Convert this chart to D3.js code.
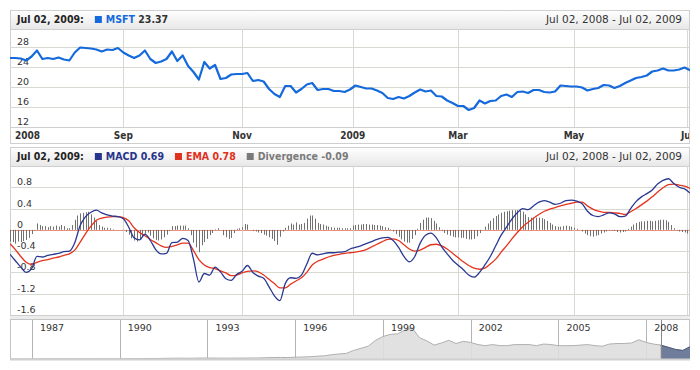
<!DOCTYPE html>
<html lang="en">
<head>
<meta charset="utf-8">
<title>MSFT MACD</title>
<script type="text/javascript" src="https://cdnjs.cloudflare.com/ajax/libs/d3/7.8.5/d3.min.js"></script>
<style type="text/css">
  body { margin: 0; background: #fff; }
  text { font-family: "DejaVu Sans", Verdana, sans-serif; }
  .bold { font-family: "DejaVu Sans Condensed", "Liberation Sans", sans-serif; font-weight: bold; }
</style>
</head>
<body>
<script type="text/javascript">
var w = 700;
var h = 370;

// MSFT close, every 2nd trading day, Jul 02 2008 - Jul 02 2009
var msft = [
  25.8, 25.8, 25.7, 25.3, 26.1, 27.3, 25.6, 25.8, 25.6, 25.9,
  25.5, 25.3, 26.9, 27.9, 27.8, 27.7, 27.5, 27.1, 27.5, 27.4,
  27.8, 26.9, 26.3, 25.8, 26.3, 27.3, 25.6, 24.8, 25.1, 25.6,
  27.1, 25.2, 26.3, 24.2, 23.0, 21.5, 25.0, 23.7, 24.4, 21.6,
  21.8, 22.5, 22.6, 22.6, 22.8, 21.2, 21.4, 21.1, 19.6, 18.6,
  18.0, 20.2, 20.2, 18.9, 19.6, 20.5, 20.8, 19.4, 19.6, 19.6,
  19.2, 19.2, 19.0, 19.5, 20.3, 20.0, 19.7, 19.7, 19.3, 18.8,
  17.8, 17.6, 18.0, 17.7, 18.2, 18.9, 19.5, 19.1, 19.3, 18.2,
  18.1, 17.3, 16.8, 16.2, 16.2, 15.4, 15.8, 17.3, 16.7, 17.2,
  17.3, 18.2, 18.5, 18.0, 19.0, 19.1, 18.8, 19.4, 19.4, 19.0,
  18.9, 19.1, 20.3, 20.2, 20.1, 20.1, 19.9, 19.3, 19.6, 19.8,
  20.4, 20.3, 19.8, 20.2, 20.8, 21.3, 21.8, 22.0, 22.3, 23.1,
  23.3, 23.7, 23.3, 23.3, 23.5, 23.9, 23.37
];

var macd = [
  -0.46, -0.58, -0.70, -0.80, -0.73, -0.50, -0.51, -0.48, -0.46, -0.44,
  -0.41, -0.40, -0.24, 0.08, 0.25, 0.33, 0.37, 0.32, 0.28, 0.26,
  0.25, 0.21, 0.05, -0.15, -0.19, -0.08, -0.20, -0.37, -0.45, -0.44,
  -0.24, -0.23, -0.16, -0.20, -0.55, -0.98, -0.82, -0.85, -0.70, -0.79,
  -0.92, -0.95, -0.84, -0.78, -0.67, -0.80, -0.87, -0.91, -1.07, -1.24,
  -1.33, -1.01, -0.90, -0.91, -0.85, -0.64, -0.44, -0.47, -0.45, -0.43,
  -0.43, -0.42, -0.41, -0.36, -0.33, -0.30, -0.26, -0.22, -0.18, -0.15,
  -0.14, -0.20, -0.33, -0.50, -0.60, -0.50, -0.25, -0.10, -0.06, -0.15,
  -0.32, -0.45, -0.57, -0.66, -0.75, -0.85, -0.89, -0.80, -0.66, -0.50,
  -0.30, -0.10, 0.05, 0.20, 0.32, 0.40, 0.38, 0.45, 0.52, 0.55,
  0.52, 0.48, 0.50, 0.55, 0.56, 0.54, 0.49, 0.35, 0.27, 0.25,
  0.28, 0.32, 0.30, 0.25, 0.26, 0.40, 0.53, 0.62, 0.68, 0.75,
  0.86, 0.93, 0.96, 0.87, 0.80, 0.77, 0.69
];

var ema = [
  -0.26, -0.37, -0.50, -0.61, -0.65, -0.61, -0.58, -0.56, -0.53, -0.51,
  -0.48, -0.45, -0.38, -0.23, -0.07, 0.07, 0.18, 0.22, 0.24, 0.25,
  0.25, 0.23, 0.17, 0.04, -0.05, -0.11, -0.18, -0.24, -0.30, -0.33,
  -0.31, -0.28, -0.25, -0.25, -0.39, -0.56, -0.66, -0.71, -0.73, -0.77,
  -0.81, -0.86, -0.85, -0.81, -0.78, -0.77, -0.79, -0.85, -0.93, -1.01,
  -1.09, -1.09, -1.02, -0.96, -0.90, -0.80, -0.66, -0.59, -0.55, -0.51,
  -0.48, -0.46, -0.44, -0.43, -0.42, -0.40, -0.37, -0.32, -0.27, -0.22,
  -0.18, -0.17, -0.20, -0.28, -0.36, -0.40, -0.38, -0.33, -0.28, -0.27,
  -0.30, -0.36, -0.44, -0.52, -0.60, -0.67, -0.72, -0.74, -0.72, -0.64,
  -0.55, -0.42, -0.30, -0.17, -0.05, 0.06, 0.14, 0.22, 0.29, 0.35,
  0.39, 0.42, 0.45, 0.48, 0.50, 0.52, 0.52, 0.45, 0.39, 0.35,
  0.33, 0.33, 0.32, 0.31, 0.29, 0.34, 0.40, 0.47, 0.54, 0.62,
  0.71, 0.79, 0.85, 0.86, 0.84, 0.82, 0.78
];

// divergence, one bar per trading day
var divergence = [
  -0.22, -0.23, -0.26, -0.22, -0.23, -0.21, -0.19, -0.15, -0.08, -0.01,
  0.12, 0.09, 0.07, 0.07, 0.05, 0.07, 0.06, 0.08, 0.06, 0.09,
  0.07, 0.03, 0.03, 0.09, 0.19, 0.27, 0.31, 0.32, 0.33, 0.34,
  0.29, 0.23, 0.17, 0.09, 0.06, 0.04, 0.04, 0.03, 0.01, 0.00,
  0.00, 0.00, -0.01, -0.04, -0.09, -0.16, -0.20, -0.22, -0.18, -0.12,
  -0.07, -0.05, -0.11, -0.16, -0.19, -0.20, -0.18, -0.14, -0.09, -0.02,
  0.07, 0.07, 0.08, 0.08, 0.08, 0.08, 0.03, -0.10, -0.24, -0.33,
  -0.42, -0.29, -0.23, -0.17, -0.10, -0.06, 0.01, 0.03, 0.00, -0.10,
  -0.14, -0.17, -0.15, -0.06, 0.02, 0.03, 0.05, 0.11, 0.10, 0.00,
  -0.02, -0.03, -0.05, -0.06, -0.09, -0.11, -0.14, -0.17, -0.21, -0.28,
  -0.13, -0.03, 0.04, 0.08, 0.12, 0.10, 0.14, 0.10, 0.11, 0.13,
  0.21, 0.27, 0.27, 0.21, 0.13, 0.11, 0.10, 0.08, 0.06, 0.05,
  0.04, 0.04, 0.04, 0.03, 0.03, 0.03, 0.03, 0.08, 0.09, 0.10,
  0.10, 0.11, 0.11, 0.10, 0.10, 0.09, 0.09, 0.08, 0.07, 0.05,
  0.04, 0.01, -0.03, -0.08, -0.13, -0.18, -0.22, -0.24, -0.24, -0.17,
  -0.10, 0.02, 0.13, 0.19, 0.23, 0.23, 0.22, 0.17, 0.12, 0.05,
  -0.02, -0.06, -0.09, -0.11, -0.13, -0.14, -0.14, -0.15, -0.15, -0.17,
  -0.18, -0.18, -0.17, -0.12, -0.06, 0.00, 0.06, 0.12, 0.17, 0.22,
  0.26, 0.29, 0.32, 0.34, 0.35, 0.36, 0.37, 0.37, 0.37, 0.36,
  0.34, 0.29, 0.24, 0.23, 0.23, 0.23, 0.23, 0.22, 0.20, 0.17,
  0.13, 0.10, 0.07, 0.06, 0.06, 0.07, 0.08, 0.07, 0.06, 0.04,
  0.02, 0.00, -0.03, -0.07, -0.10, -0.12, -0.13, -0.11, -0.10, -0.07,
  -0.05, -0.03, -0.01, -0.01, -0.02, -0.04, -0.05, -0.04, -0.03, 0.02,
  0.06, 0.10, 0.13, 0.15, 0.16, 0.16, 0.17, 0.17, 0.16, 0.17,
  0.18, 0.19, 0.19, 0.18, 0.15, 0.09, 0.03, -0.01, -0.03, -0.04,
  -0.05, -0.07, -0.09
];

// trading-day index of the first session of each labelled month
var tickIdx = [42, 86, 127, 166, 209, 251];
var tickLabels = ["Sep", "Nov", "2009", "Mar", "May", "Jul"];
var priceTicks = [12, 16, 20, 24, 28];
var macdTicks = [-1.6, -1.2, -0.8, -0.4, 0, 0.4, 0.8];

// scroller: quarterly MSFT close from 1986.25
var scrollYears = [1987, 1990, 1993, 1996, 1999, 2002, 2005, 2008];
var scrollPrice = [
  0.1, 0.1, 0.1,
  0.2, 0.25, 0.3, 0.25,
  0.25, 0.25, 0.25, 0.25,
  0.3, 0.3, 0.4, 0.4,
  0.5, 0.6, 0.6, 0.7,
  0.9, 1.0, 1.2, 1.4,
  1.6, 1.4, 1.5, 1.7,
  1.8, 1.7, 1.5, 1.6,
  1.7, 1.7, 1.9, 2.0,
  2.4, 2.8, 2.9, 2.8,
  3.3, 3.8, 4.3, 5.2,
  6.0, 8.0, 9.5, 10.5,
  16, 20, 24, 35,
  42, 46, 47, 54,
  58, 40, 34, 26,
  30, 35, 29, 33,
  31, 27, 25, 27,
  25, 25, 27, 27,
  27, 25, 28, 27,
  25, 25, 25, 26,
  27, 25, 24, 28,
  29, 29, 30, 36,
  31, 28, 26, 22,
  18, 16, 23
];

var svg = d3.select("body")
            .append("svg")
            .attr("width", w)
            .attr("height", h);

var defs = svg.append("defs");
var grad = defs.append("linearGradient")
               .attr("id", "hdr")
               .attr("x1", 0).attr("y1", 0).attr("x2", 0).attr("y2", 1);
grad.append("stop").attr("offset", "0%").attr("stop-color", "#fefefe");
grad.append("stop").attr("offset", "100%").attr("stop-color", "#e8e8e8");

defs.append("clipPath").attr("id", "clipTop")
    .append("rect").attr("x", 10).attr("y", 29).attr("width", 680).attr("height", 98);
defs.append("clipPath").attr("id", "clipBot")
    .append("rect").attr("x", 10).attr("y", 166).attr("width", 680).attr("height", 149);
defs.append("clipPath").attr("id", "clipAxis")
    .append("rect").attr("x", 10).attr("y", 127).attr("width", 679).attr("height", 16);

var x = d3.scaleLinear().domain([0, 252]).range([10, 690]);
var yPrice = d3.scaleLinear().domain([12, 31.6]).range([127, 29]);
var yMacd = d3.scaleLinear().domain([-1.6, 1.2]).range([315, 166]);

function crisp(v) { return Math.round(v) + 0.5; }

// panel frames with header bars
function frame(top, headBottom, bottom) {
  svg.append("rect")
     .attr("x", 10.5).attr("y", top + 0.5)
     .attr("width", 679).attr("height", bottom - top)
     .attr("fill", "#fff").attr("stroke", "#cfcfcf");
  svg.append("rect")
     .attr("x", 11).attr("y", top + 1)
     .attr("width", 678).attr("height", headBottom - top - 1)
     .attr("fill", "url(#hdr)");
  svg.append("line")
     .attr("x1", 10).attr("x2", 690)
     .attr("y1", headBottom + 0.5).attr("y2", headBottom + 0.5)
     .attr("stroke", "#cfcfcf");
}
frame(10, 29, 143);
frame(147, 166, 315);

// grids
function grid(y, ticks, top, bottom) {
  svg.append("g").selectAll("line")
     .data(ticks).enter().append("line")
     .attr("x1", 10).attr("x2", 690)
     .attr("y1", function(d) { return crisp(y(d)); })
     .attr("y2", function(d) { return crisp(y(d)); })
     .attr("stroke", function(d) { return d === 0 && y === yMacd ? "#e8907e" : "#d6d9d2"; });
  svg.append("g").selectAll("line")
     .data(tickIdx).enter().append("line")
     .attr("x1", function(d) { return crisp(x(d)); })
     .attr("x2", function(d) { return crisp(x(d)); })
     .attr("y1", top).attr("y2", bottom)
     .attr("stroke", "#d6d9d2");
}
grid(yPrice, priceTicks.slice(1), 29, 127);
grid(yMacd, macdTicks.slice(1), 166, 315);

svg.append("line")
   .attr("x1", 10).attr("x2", 690).attr("y1", 127.5).attr("y2", 127.5)
   .attr("stroke", "#cfcfcf");

// y labels sit inside the plot, just above their grid line
svg.append("g").selectAll("text")
   .data(priceTicks).enter().append("text")
   .attr("x", 17)
   .attr("y", function(d) { return yPrice(d) - 2; })
   .attr("font-size", "9.5px")
   .attr("fill", "#333")
   .text(function(d) { return d; });

svg.append("g").selectAll("text")
   .data(macdTicks).enter().append("text")
   .attr("x", 17)
   .attr("y", function(d) { return yMacd(d) - 2; })
   .attr("font-size", "9.5px")
   .attr("fill", "#333")
   .text(function(d) { return d; });

// x labels under the price panel
var xl = svg.append("g").attr("clip-path", "url(#clipAxis)");
xl.append("text")
  .attr("class", "bold")
  .attr("x", 15).attr("y", 139)
  .attr("font-size", "10px")
  .attr("fill", "#333")
  .text("2008");
xl.selectAll("text.tick")
  .data(tickIdx).enter().append("text")
  .attr("class", "bold tick")
  .attr("x", function(d) { return x(d); })
  .attr("y", 139)
  .attr("text-anchor", "middle")
  .attr("font-size", "10px")
  .attr("fill", "#333")
  .text(function(d, i) { return tickLabels[i]; });

// price line
var priceLine = d3.line()
    .x(function(d, i) { return x(i * 2); })
    .y(function(d) { return yPrice(d); });

svg.append("path")
   .datum(msft)
   .attr("clip-path", "url(#clipTop)")
   .attr("d", priceLine)
   .attr("fill", "none")
   .attr("stroke", "#1469dc")
   .attr("stroke-width", 2.2)
   .attr("stroke-linejoin", "round");

// divergence bars
svg.append("g")
   .attr("clip-path", "url(#clipBot)")
   .selectAll("line")
   .data(divergence).enter().append("line")
   .attr("x1", function(d, i) { return crisp(x(i)); })
   .attr("x2", function(d, i) { return crisp(x(i)); })
   .attr("y1", yMacd(0))
   .attr("y2", function(d) { return yMacd(d); })
   .attr("stroke", "#707070")
   .attr("stroke-width", 1);

var macdLine = d3.line()
    .x(function(d, i) { return x(i * 2); })
    .y(function(d) { return yMacd(d); })
    .curve(d3.curveMonotoneX);

svg.append("path")
   .datum(ema)
   .attr("clip-path", "url(#clipBot)")
   .attr("d", macdLine)
   .attr("fill", "none")
   .attr("stroke", "#e5341d")
   .attr("stroke-width", 1.3);

svg.append("path")
   .datum(macd)
   .attr("clip-path", "url(#clipBot)")
   .attr("d", macdLine)
   .attr("fill", "none")
   .attr("stroke", "#2a3891")
   .attr("stroke-width", 1.3);

// headers
function header(y, items) {
  var t = svg.append("text")
     .attr("class", "bold")
     .attr("x", 17).attr("y", y)
     .attr("font-size", "10.5px")
     .attr("fill", "#222")
     .text("Jul 02, 2009:");
  var cx = 17 + t.node().getComputedTextLength() + 11;
  items.forEach(function(it) {
    svg.append("rect")
       .attr("x", cx).attr("y", y - 7)
       .attr("width", 7).attr("height", 7)
       .attr("fill", it.color);
    var lt = svg.append("text")
       .attr("class", "bold")
       .attr("x", cx + 11).attr("y", y)
       .attr("font-size", "10.5px")
       .attr("fill", it.color);
    lt.append("tspan").text(it.name + " ");
    lt.append("tspan").attr("fill", it.valueColor || it.color).text(it.value);
    cx = cx + 11 + lt.node().getComputedTextLength() + 11;
  });
  svg.append("text")
     .attr("x", 682).attr("y", y)
     .attr("text-anchor", "end")
     .attr("font-size", "10.5px")
     .attr("fill", "#333")
     .text("Jul 02, 2008 - Jul 02, 2009");
}
header(23, [{ name: "MSFT", value: "23.37", color: "#1469dc", valueColor: "#333" }]);
header(160, [
  { name: "MACD", value: "0.69", color: "#26348c" },
  { name: "EMA", value: "0.78", color: "#e0311c" },
  { name: "Divergence", value: "-0.09", color: "#7a7a7a" }
]);

// scroller
svg.append("rect")
   .attr("x", 10).attr("y", 316).attr("width", 680).attr("height", 3)
   .attr("fill", "#ececec");
svg.append("rect")
   .attr("x", 10.5).attr("y", 319.5).attr("width", 679).attr("height", 40)
   .attr("fill", "#fff").attr("stroke", "#c4c4c4");

var sx = d3.scaleLinear().domain([1986.25, 2009.5]).range([10, 690]);
var sy = d3.scaleLinear().domain([0, 73]).range([359, 320]);

svg.append("g").selectAll("line")
   .data(scrollYears).enter().append("line")
   .attr("x1", function(d) { return crisp(sx(d)); })
   .attr("x2", function(d) { return crisp(sx(d)); })
   .attr("y1", 320).attr("y2", 359)
   .attr("stroke", "#b4b4b4");

var area = d3.area()
    .x(function(d, i) { return sx(1986.25 + i / 4); })
    .y0(359)
    .y1(function(d) { return sy(d); });
var areaTop = d3.line()
    .x(function(d, i) { return sx(1986.25 + i / 4); })
    .y(function(d) { return sy(d); });

svg.append("path").datum(scrollPrice)
   .attr("d", area).attr("fill", "#dedede").attr("fill-opacity", 0.9);
svg.append("path").datum(scrollPrice)
   .attr("d", areaTop).attr("fill", "none").attr("stroke", "#b0b0b0");

// selected range Jul 2008 - Jul 2009
defs.append("clipPath").attr("id", "clipSel")
    .append("rect")
    .attr("x", sx(2008.5)).attr("y", 320)
    .attr("width", sx(2009.5) - sx(2008.5)).attr("height", 39);
svg.append("path").datum(scrollPrice)
   .attr("clip-path", "url(#clipSel)")
   .attr("d", area).attr("fill", "#6f7c9a");
svg.append("path").datum(scrollPrice)
   .attr("clip-path", "url(#clipSel)")
   .attr("d", areaTop).attr("fill", "none").attr("stroke", "#4e5a7a");
svg.append("line")
   .attr("x1", crisp(sx(2008.5))).attr("x2", crisp(sx(2008.5)))
   .attr("y1", 320).attr("y2", 359)
   .attr("stroke", "#888");

svg.append("g").selectAll("text")
   .data(scrollYears).enter().append("text")
   .attr("x", function(d) { return sx(d) + 8; })
   .attr("y", 331)
   .attr("font-size", "9.5px")
   .attr("fill", "#333")
   .text(function(d) { return d; });

svg.append("line")
   .attr("x1", 10).attr("x2", 690).attr("y1", 359.5).attr("y2", 359.5)
   .attr("stroke", "#d0d0d0").attr("stroke-width", 2);
</script>
</body>
</html>
